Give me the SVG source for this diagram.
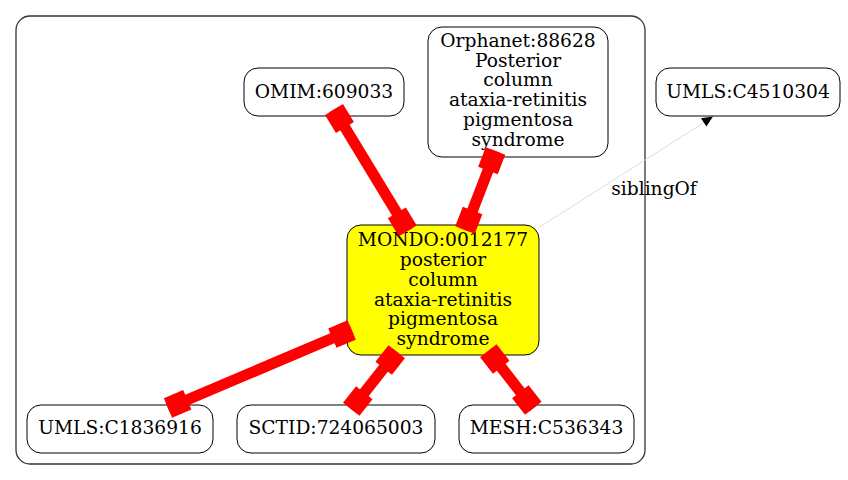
<svg xmlns="http://www.w3.org/2000/svg" width="848" height="480" viewBox="0 0 848 480">
<style>
  .cluster { fill: #ffffff; stroke: #333333; stroke-width: 1.3; }
  .node rect { fill: #ffffff; stroke: #000000; stroke-width: 1; }
  .node.focus rect { fill: #ffff00; }
  text { font-family: "DejaVu Serif", "Liberation Serif", serif; font-size: 18.67px; fill: #000000; text-anchor: middle; }
  .edge rect { fill: #ff0000; }
  .sib { stroke: #dddddd; stroke-width: 1; fill: none; }
  .sibhead { fill: #000000; }
</style>
<rect width="848" height="480" fill="#ffffff"/>
<rect class="cluster" x="16" y="16" width="629" height="448" rx="14" ry="14"/>

<g id="node-omim" class="node">
  <rect x="244" y="68" width="160" height="48" rx="14" ry="14"/>
  <text x="324" y="97.5">OMIM:609033</text>
</g>
<g id="node-orphanet" class="node">
  <rect x="428" y="27" width="180" height="130" rx="14" ry="14"/>
  <text x="518" y="46.7">Orphanet:88628</text>
  <text x="518" y="66.5">Posterior</text>
  <text x="518" y="86.3">column</text>
  <text x="518" y="106.2">ataxia-retinitis</text>
  <text x="518" y="126">pigmentosa</text>
  <text x="518" y="145.8">syndrome</text>
</g>
<g id="node-umls4510304" class="node">
  <rect x="656" y="68" width="184" height="48" rx="14" ry="14"/>
  <text x="748" y="97.5">UMLS:C4510304</text>
</g>
<g id="node-mondo" class="node focus">
  <rect x="347" y="225" width="192" height="130" rx="14" ry="14"/>
  <text x="443" y="246">MONDO:0012177</text>
  <text x="443" y="265.8">posterior</text>
  <text x="443" y="285.7">column</text>
  <text x="443" y="305.5">ataxia-retinitis</text>
  <text x="443" y="325.3">pigmentosa</text>
  <text x="443" y="345.2">syndrome</text>
</g>
<g id="node-umls1836916" class="node">
  <rect x="27" y="405" width="186" height="48" rx="14" ry="14"/>
  <text x="120" y="434">UMLS:C1836916</text>
</g>
<g id="node-sctid" class="node">
  <rect x="237" y="405" width="198" height="48" rx="14" ry="14"/>
  <text x="336" y="434">SCTID:724065003</text>
</g>
<g id="node-mesh" class="node">
  <rect x="459" y="405" width="175" height="48" rx="14" ry="14"/>
  <text x="546.5" y="434">MESH:C536343</text>
</g>

<g id="connectors">
  <g class="edge" transform="translate(334 109.5) rotate(58.7)">
    <rect x="0" y="-5.5" width="142" height="11"/>
    <rect x="0" y="-10.5" width="21" height="21"/>
    <rect x="121" y="-10.5" width="21" height="21"/>
  </g>
  <g class="edge" transform="translate(495.5 151) rotate(111.1)">
    <rect x="0" y="-5.5" width="84.7" height="11"/>
    <rect x="0" y="-10.5" width="21" height="21"/>
    <rect x="63.7" y="-10.5" width="21" height="21"/>
  </g>
  <g class="edge" transform="translate(351.7 330) rotate(157)">
    <rect x="0" y="-5.5" width="199.6" height="11"/>
    <rect x="0" y="-10.5" width="21" height="21"/>
    <rect x="178.6" y="-10.5" width="21" height="21"/>
  </g>
  <g class="edge" transform="translate(396.7 351.7) rotate(128.3)">
    <rect x="0" y="-5.5" width="73.3" height="11"/>
    <rect x="0" y="-10.5" width="21" height="21"/>
    <rect x="52.3" y="-10.5" width="21" height="21"/>
  </g>
  <g class="edge" transform="translate(488.3 350.8) rotate(51.95)">
    <rect x="0" y="-5.5" width="73" height="11"/>
    <rect x="0" y="-10.5" width="21" height="21"/>
    <rect x="52" y="-10.5" width="21" height="21"/>
  </g>
  <g class="sibling">
    <line class="sib" x1="538" y1="228" x2="704" y2="122.5"/>
    <polygon class="sibhead" points="713,116.5 701,118.2 706.4,126.6"/>
    <text x="654" y="195">siblingOf</text>
  </g>
</g>
</svg>
